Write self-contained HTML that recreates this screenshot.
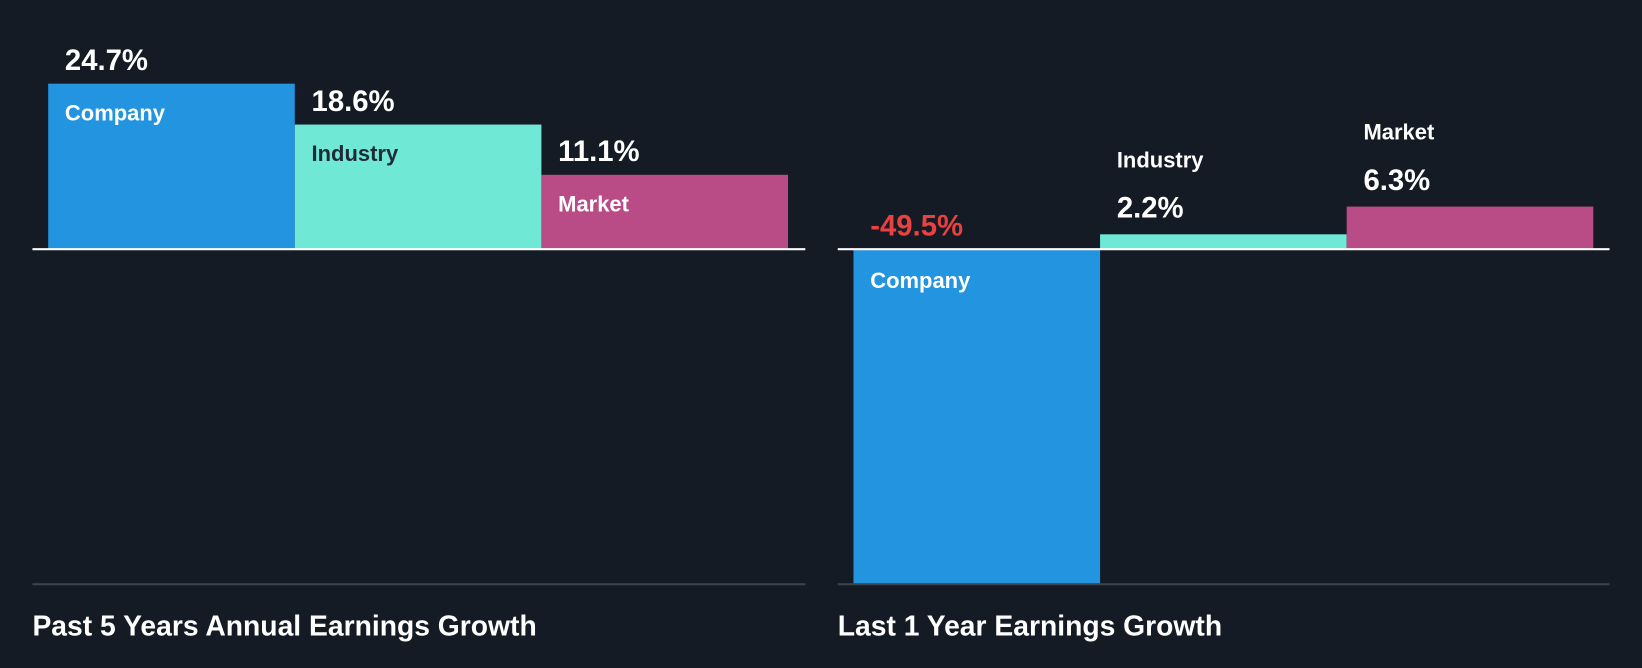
<!DOCTYPE html>
<html><head><meta charset="utf-8"><style>
html,body{margin:0;padding:0;background:#151b24;}
svg{display:block;font-family:"Liberation Sans",sans-serif;font-weight:bold;}
</style></head><body>
<svg width="1642" height="668" viewBox="0 0 1568 638" preserveAspectRatio="none">
<rect width="1568" height="638" fill="#151b24"/>
<g id="left"></g>
<g id="right"></g>
<text x="31" y="607" fill="#fff" font-size="27">Past 5 Years Annual Earnings Growth</text>
<text x="800" y="607" fill="#fff" font-size="27">Last 1 Year Earnings Growth</text>
</svg>
<script>
const categories = ["Company","Industry","Market"];
const past5Values = [24.7, 18.6, 11.1];
const last1Values = [-49.5, 2.2, 6.3];
const colors = ["#2394e0","#6fe8d6","#b94b86"];
const NS = "http://www.w3.org/2000/svg";
function mk(tag, attrs, parent){const e=document.createElementNS(NS,tag);for(const k in attrs)e.setAttribute(k,attrs[k]);parent.appendChild(e);return e;}
function panel(g, vals, x0, x1, scale, px){
  const base=238, bw=235.5, start=x0+15;
  const y=v=>base - v*scale;
  vals.forEach((v,i)=>{
    const bx=start+i*bw, top=Math.min(y(v),base), h=Math.abs(y(v)-base);
    const r=mk('rect',{x:bx,y:top,width:bw,height:h,fill:colors[i]},g);
    
    
    const nameCol = i===1 ? "#1e2a36" : "#fff";
    let nameY, valY, nc=nameCol;
    if(v<0){ valY=base-13; nameY=base+37; }
    else if(h>60){ valY=top-13; nameY=top+35; }
    else { valY=top-16; nameY=top-64; nc="#fff"; }
    const vt=mk('text',{x:bx+16,y:valY,fill:v<0?"#e8413f":"#fff","font-size":28},g);
    vt.textContent=v.toFixed(1)+"%";
    
    
    const nt=mk('text',{x:bx+16,y:nameY,fill:nc,"font-size":21},g);
    nt.textContent=categories[i];
    
    
  });
  const zl=mk('rect',{x:x0,y:base-1,width:x1-x0,height:2,fill:"#fff"},g);
  
  
  const bl=mk('rect',{x:x0,y:557,width:x1-x0,height:2,fill:"#3d434c"},g);
  
  
}
panel(document.getElementById('left'), past5Values, 31, 769, 6.4, 'past5');
panel(document.getElementById('right'), last1Values, 800, 1537, 6.46, 'last1');
</script>
</body></html>
